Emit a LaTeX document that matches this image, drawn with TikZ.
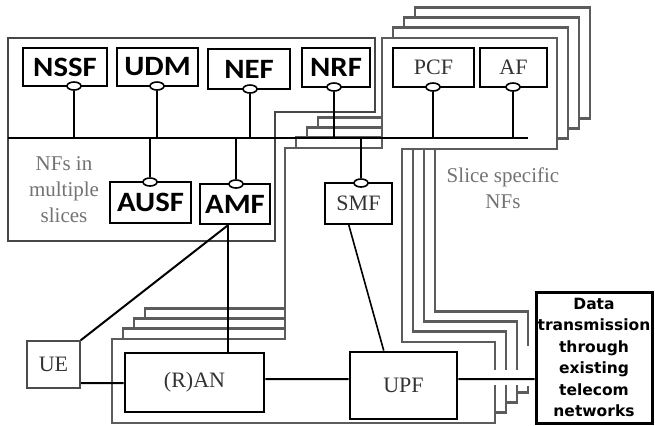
\documentclass[tikz,border=0pt]{standalone}
\usepackage{fontspec}
\setmainfont{Liberation Serif}
\newfontfamily\nffont{Carlito}[FakeStretch=1.1]
\newfontfamily\datafont{DejaVu Sans}
\usetikzlibrary{shapes.geometric,calc}
\tikzset{
  slice/.style={draw=black!64, line width=2.8bp, fill=white, line join=miter},
  mainbox/.style={draw=black!72, line width=2.2bp, fill=white},
  nfbox/.style={rectangle, draw=black, line width=2.8bp, fill=white, inner sep=0pt,
    font=\nffont\bfseries\fontsize{28bp}{30bp}\selectfont},
  serifbox/.style={rectangle, draw=black, line width=2.8bp, fill=white, inner sep=0pt,
    text=black!80, font=\fontsize{22bp}{24bp}\selectfont},
  port/.style={ellipse, draw=black, line width=1.6bp, fill=white,
    minimum width=14bp, minimum height=8bp, inner sep=0pt},
  link/.style={draw=black, line width=2bp},
  note/.style={text=black!55, align=center, font=\fontsize{21bp}{26bp}\selectfont},
  databox/.style={rectangle, draw=black, line width=3bp, fill=white, inner sep=0pt,
    align=center, font=\datafont\bfseries\fontsize{15.5bp}{21.5bp}\selectfont}
}
\begin{document}
\begin{tikzpicture}[x=1bp,y=-1bp]
\useasboundingbox (0,0) rectangle (655,425);
% stacked slices (back to front)
\foreach \k in {3,2,1,0}{
  \begin{scope}[shift={(11*\k,-10.3*\k)}]
    \draw[slice] (382,38) -- (557,38) -- (557,149) -- (402,149) -- (402,342)
      -- (495,342) -- (495,423) -- (112,423) -- (112,339) -- (285,339)
      -- (285,148) -- (382,148) -- cycle;
  \end{scope}
}
% gaps in slice outlines
\fill[white] (462,370) rectangle (533,385);
\fill[white] (523,346) rectangle (533,386);
% NFs in multiple slices box
\draw[mainbox] (8,38) -- (375,38) -- (375,112) -- (275,112) -- (275,241) -- (8,241) -- cycle;
% bus
\coordinate (busl) at (8,137.5);
\coordinate (busr) at (528,137.5);
\draw[link] (busl) -- (busr);
% NF boxes
\node[nfbox, minimum width=84bp, minimum height=38bp] (nssf) at (65,67) {NSSF};
\node[nfbox, minimum width=81bp, minimum height=38bp] (udm) at (157.5,67) {UDM};
\node[nfbox, minimum width=82bp, minimum height=40bp] (nef) at (249,69) {NEF};
\node[nfbox, minimum width=68bp, minimum height=39bp] (nrf) at (336,67.5) {NRF};
\node[serifbox, minimum width=81bp, minimum height=39bp] (pcf) at (433.5,67.5) {PCF};
\node[serifbox, minimum width=67bp, minimum height=39bp] (af) at (513.5,67.5) {AF};
\node[nfbox, minimum width=81bp, minimum height=41bp] (ausf) at (150.5,202.5) {AUSF};
\node[nfbox, minimum width=70bp, minimum height=40bp] (amf) at (235,204) {AMF};
\node[serifbox, line width=2.2bp, minimum width=67bp, minimum height=41bp] (smf) at (358.5,203.5) {SMF};
% ports
\node[port] (nssf-p) at (74,86) {};
\node[port] (udm-p) at (157,86) {};
\node[port] (nef-p) at (250,89) {};
\node[port] (nrf-p) at (334,87) {};
\node[port] (pcf-p) at (433,87) {};
\node[port] (af-p) at (513,87) {};
\node[port] (ausf-p) at (150,182) {};
\node[port] (amf-p) at (236,184) {};
\node[port] (smf-p) at (361,183) {};
\foreach \p in {nssf-p,udm-p,nef-p,nrf-p,pcf-p,af-p}{
  \draw[link] (\p.south) -- (\p.south |- busl);
}
\foreach \p in {ausf-p,amf-p,smf-p}{
  \draw[link] (\p.north) -- (\p.north |- busl);
}
% lower part
\node[serifbox, draw=black!70, line width=1.6bp, minimum width=53bp, minimum height=47bp] (ue) at (53.5,364.5) {UE};
\node[serifbox, minimum width=139bp, minimum height=59bp] (ran) at (194.5,382.5) {(R)AN};
\node[serifbox, minimum width=107bp, minimum height=67bp] (upf) at (403.5,385.5) {UPF};
\node[databox, minimum width=116bp, minimum height=131bp] (data) at (594,357.5)
  {Data\\transmission\\through\\existing\\telecom\\networks};
% connectors
\coordinate (amfo) at ($(amf.south west)!0.4!(amf.south east)$);
\draw[link] (amfo) -- (amfo |- ran.north);
\draw[link] (amfo) -- (ue.north east);
\draw[link, line width=1.6bp] ($(smf.south west)!0.36!(smf.south east)$) -- ($(upf.north west)!0.32!(upf.north east)$);
\draw[link] ([yshift=-18.5bp]ue.east) -- ([yshift=-0.5bp]ran.west);
\draw[link] ([yshift=3.5bp]ran.east) -- ([yshift=6.5bp]upf.west);
\draw[link] ([yshift=6.5bp]upf.east) -- ([yshift=-21.5bp]data.west);
% notes
\node[note] (nfsm) at (64,190) {NFs in\\multiple\\slices};
\node[note] (ssn) at (503,188) {Slice specific\\NFs};
\end{tikzpicture}
\end{document}
